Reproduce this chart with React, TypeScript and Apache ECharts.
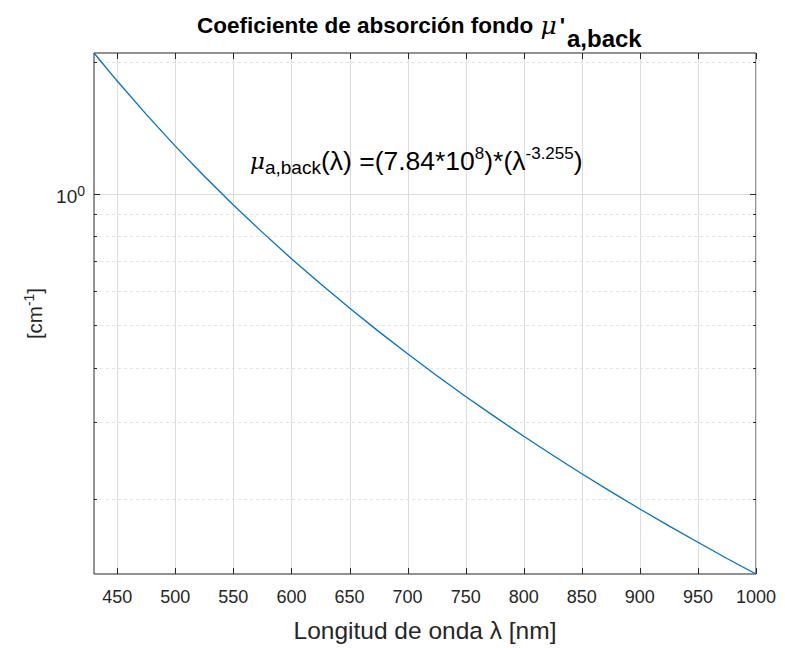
import React, { useEffect, useRef } from "react";
import * as echarts from "echarts";

const X_MIN = 430;
const X_MAX = 1000;
const Y_MIN = 0.1347;
const Y_MAX = 2.1006;

const wavelengths = [430, 450, 475, 500, 525, 550, 575, 600, 625, 650, 675, 700, 725, 750, 775, 800, 825, 850, 875, 900, 925, 950, 975, 1000];
const muBack = [2.1006, 1.8119, 1.5195, 1.2857, 1.097, 0.9429, 0.8158, 0.7102, 0.622, 0.5474, 0.4841, 0.4301, 0.3836, 0.3435, 0.3088, 0.2784, 0.2519, 0.2286, 0.208, 0.1897, 0.1736, 0.1592, 0.1462, 0.1347];

const xTicks = [450, 500, 550, 600, 650, 700, 750, 800, 850, 900, 950, 1000];
const yMajorTicks = [1];
const yMinorTicks = [0.2, 0.3, 0.4, 0.5, 0.6, 0.7, 0.8, 0.9, 2];

const FONT = "'Liberation Sans', Arial, Helvetica, sans-serif";
const DARK = "#262626";

export default function App() {
  const ref = useRef<HTMLDivElement>(null);
  useEffect(() => {
    if (!ref.current) return;
    const chart = echarts.init(ref.current, undefined, { renderer: "svg" });
    const crisp = (v: number) => Math.round(v) + 0.5;

    const option: any = {
      animation: false,
      backgroundColor: "#ffffff",
      grid: {
        left: 94,
        top: 53,
        width: 662,
        height: 522,
        show: true,
        borderColor: DARK,
        borderWidth: 1,
        backgroundColor: "#fff",
      },
      xAxis: {
        type: "value",
        min: X_MIN,
        max: X_MAX,
        interval: 10,
        axisLine: { show: false },
        axisTick: { show: false },
        splitLine: { show: false },
        axisLabel: {
          margin: 14,
          fontFamily: FONT,
          fontSize: 18,
          color: DARK,
          showMinLabel: true,
          showMaxLabel: true,
          formatter: (v: number) => (Math.round(v) % 50 === 0 ? String(Math.round(v)) : ""),
        },
        name: "Longitud de onda λ [nm]",
        nameLocation: "middle",
        nameGap: 44,
        nameTextStyle: { fontFamily: FONT, fontSize: 24.5, color: DARK },
      },
      yAxis: {
        type: "log",
        logBase: 10,
        min: Y_MIN,
        max: Y_MAX,
        axisLine: { show: false },
        axisTick: { show: false },
        splitLine: { show: false },
        axisLabel: {
          margin: 9,
          fontFamily: FONT,
          fontSize: 19,
          color: DARK,
          formatter: (v: number) => (Math.abs(v - 1) < 1e-6 ? "{b|10}{s|0}" : ""),
          rich: {
            b: { fontFamily: FONT, fontSize: 19, color: DARK, lineHeight: 22, padding: [6, 0, 0, 0] },
            s: { fontFamily: FONT, fontSize: 14, color: DARK, padding: [0, 0, 6, 0] },
          },
        },
        name: "[cm{s|-1}]",
        nameLocation: "middle",
        nameGap: 46,
        nameRotate: 90,
        nameTextStyle: {
          fontFamily: FONT,
          fontSize: 20.5,
          color: DARK,
          rich: {
            s: { fontFamily: FONT, fontSize: 14, color: DARK, padding: [0, 0, 12, 0] },
          },
        },
      },
      graphic: [
        {
          type: "text",
          left: 197,
          top: 13,
          style: {
            text: "Coeficiente de absorción fondo {mu|μ}{ap|'}",
            fontFamily: FONT,
            fontWeight: "bold",
            fontSize: 22.5,
            fill: "#000",
            rich: {
              mu: { fontFamily: "'DejaVu Serif', serif", fontStyle: "italic", fontSize: 25, fill: "#000", padding: [0, 0, 0, 1] },
              ap: { fontFamily: FONT, fontWeight: "bold", fontSize: 22.5, fill: "#000", padding: [0, 0, 0, 3] },
            },
          },
          z: 100,
        },
        {
          type: "text",
          left: 567,
          top: 26,
          style: {
            text: "a,back",
            fontFamily: FONT,
            fontWeight: "bold",
            fontSize: 24,
            fill: "#000",
          },
          z: 100,
        },
        {
          type: "text",
          left: 250,
          top: 145,
          style: {
            text: "{mu|μ}{sub|a,back}{n|(λ) =(7.84*10}{sup|8}{n|)*(λ}{sup|-3.255}{n|)}",
            rich: {
              mu: { fontFamily: "'DejaVu Serif', serif", fontStyle: "italic", fontSize: 23, fill: "#000" },
              sub: { fontFamily: FONT, fontSize: 19, fill: "#000", padding: [14, 0, 0, 0] },
              n: { fontFamily: FONT, fontSize: 26.5, fill: "#000" },
              sup: { fontFamily: FONT, fontSize: 17, fill: "#000", padding: [0, 0, 14, 0] },
            },
          },
          z: 100,
        },
      ],
      series: [
        {
          type: "custom",
          name: "xgrid",
          z: 1,
          silent: true,
          data: xTicks.map((v) => [v, Y_MIN]),
          encode: { x: 0, y: 1 },
          renderItem: (params: any, api: any) => {
            const p = api.coord([api.value(0), Y_MIN]);
            const cs = params.coordSys;
            const x = crisp(p[0]);
            const top = cs.y;
            const bot = cs.y + cs.height;
            return {
              type: "group",
              children: [
                { type: "line", shape: { x1: x, y1: top, x2: x, y2: bot }, style: { stroke: "#dcdcdc", lineWidth: 1 } },
                { type: "line", shape: { x1: x, y1: bot, x2: x, y2: bot - 6 }, style: { stroke: DARK, lineWidth: 1 } },
                { type: "line", shape: { x1: x, y1: top, x2: x, y2: top + 6 }, style: { stroke: DARK, lineWidth: 1 } },
              ],
            };
          },
        },
        {
          type: "custom",
          name: "ymajor",
          z: 1,
          silent: true,
          data: yMajorTicks.map((v) => [X_MIN, v]),
          encode: { x: 0, y: 1 },
          renderItem: (params: any, api: any) => {
            const p = api.coord([X_MIN, api.value(1)]);
            const cs = params.coordSys;
            const y = crisp(p[1]);
            const l = cs.x;
            const r = cs.x + cs.width;
            return {
              type: "group",
              children: [
                { type: "line", shape: { x1: l, y1: y, x2: r, y2: y }, style: { stroke: "#dcdcdc", lineWidth: 1 } },
                { type: "line", shape: { x1: l, y1: y, x2: l + 6, y2: y }, style: { stroke: DARK, lineWidth: 1 } },
                { type: "line", shape: { x1: r, y1: y, x2: r - 6, y2: y }, style: { stroke: DARK, lineWidth: 1 } },
              ],
            };
          },
        },
        {
          type: "custom",
          name: "yminor",
          z: 1,
          silent: true,
          data: yMinorTicks.map((v) => [X_MIN, v]),
          encode: { x: 0, y: 1 },
          renderItem: (params: any, api: any) => {
            const p = api.coord([X_MIN, api.value(1)]);
            const cs = params.coordSys;
            const y = crisp(p[1]);
            const l = cs.x;
            const r = cs.x + cs.width;
            return {
              type: "group",
              children: [
                { type: "line", shape: { x1: l, y1: y, x2: r, y2: y }, style: { stroke: "#e3e3e3", lineWidth: 1, lineDash: [3, 3] } },
                { type: "line", shape: { x1: l, y1: y, x2: l + 3, y2: y }, style: { stroke: DARK, lineWidth: 1 } },
                { type: "line", shape: { x1: r, y1: y, x2: r - 3, y2: y }, style: { stroke: DARK, lineWidth: 1 } },
              ],
            };
          },
        },
        {
          type: "line",
          name: "mu",
          z: 10,
          showSymbol: false,
          smooth: false,
          data: wavelengths.map((w, i) => [w, muBack[i]]),
          lineStyle: { color: "#0072BD", width: 1.3 },
          itemStyle: { color: "#0072BD" },
        },
      ],
    };
    chart.setOption(option);
    return () => chart.dispose();
  }, []);

  return (
    <div
      ref={ref}
      style={{ position: "fixed", left: 0, top: 0, width: 785, height: 648, background: "#fff" }}
    />
  );
}
